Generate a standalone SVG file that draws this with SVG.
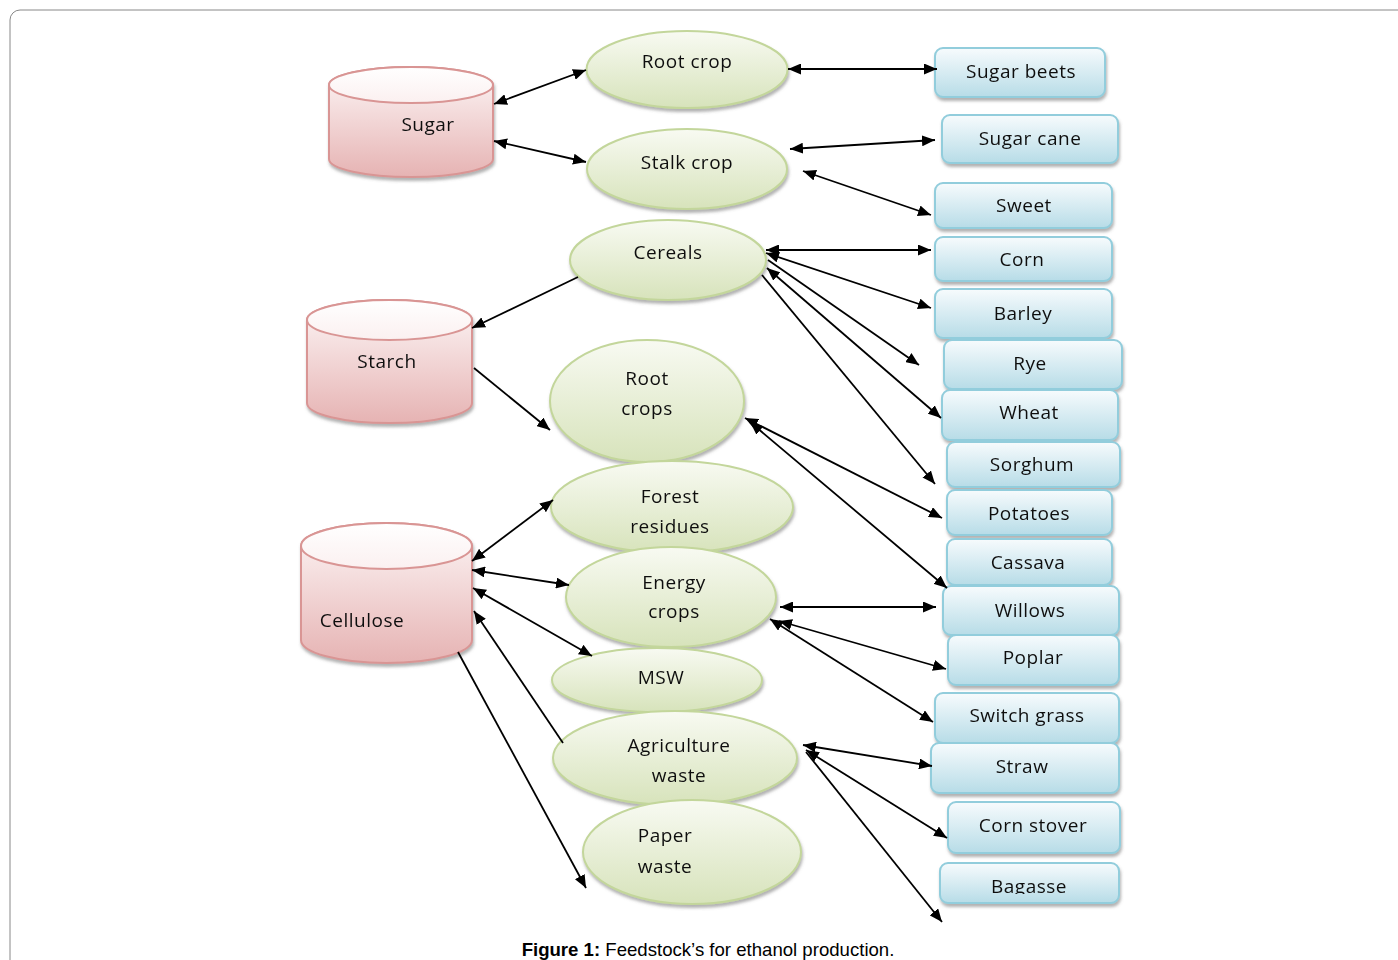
<svg xmlns="http://www.w3.org/2000/svg" width="1398" height="960" viewBox="0 0 1398 960">
<style>
.t{font-family:"Open Sans","Noto Sans","DejaVu Sans",sans-serif;font-size:19px;fill:#111;text-anchor:middle;letter-spacing:0.5px}
.cyl{fill:url(#gPink);stroke:#d99594;stroke-width:2}
.cylTop{fill:url(#gPinkTop);stroke:#d99594;stroke-width:2}
.ell{fill:url(#gGreen);stroke:#c3d69b;stroke-width:2}
.box{fill:url(#gBlue);stroke:#92cddc;stroke-width:2}
.c line{stroke:#000;stroke-width:1.8}
.cap{font-family:"Liberation Sans",Arial,sans-serif;font-size:18.6px;fill:#000;text-anchor:middle}
</style>
<defs>
<linearGradient id="gPink" x1="0" y1="0" x2="0" y2="1"><stop offset="0" stop-color="#fdf7f7"/><stop offset="1" stop-color="#e6b3b3"/></linearGradient>
<linearGradient id="gPinkTop" x1="0" y1="0" x2="0" y2="1"><stop offset="0" stop-color="#ffffff"/><stop offset="1" stop-color="#fbf0f0"/></linearGradient>
<linearGradient id="gGreen" x1="0" y1="0" x2="0" y2="1"><stop offset="0" stop-color="#f8faf2"/><stop offset="1" stop-color="#d7e3bb"/></linearGradient>
<linearGradient id="gBlue" x1="0" y1="0" x2="0" y2="1"><stop offset="0" stop-color="#f7fbfd"/><stop offset="1" stop-color="#b7dce7"/></linearGradient>
<filter id="sh" x="-10%" y="-10%" width="125%" height="135%"><feDropShadow dx="1" dy="3" stdDeviation="1.5" flood-color="#666" flood-opacity="0.5"/></filter>
<marker id="ah" viewBox="0 0 13 11" refX="13" refY="5.5" markerWidth="13" markerHeight="11" markerUnits="userSpaceOnUse" orient="auto-start-reverse"><path d="M0,0 L13,5.5 L0,11 z" fill="#000"/></marker>
<clipPath id="bagClip"><rect x="940" y="863" width="180" height="31"/></clipPath>
</defs>
<rect x="10" y="10" width="1420" height="1000" rx="10" fill="#fff" stroke="#888" stroke-width="1"/>

<g id="sugar" filter="url(#sh)">
<path class="cyl" d="M329,85 L329,159 A82,18 0 0 0 493,159 L493,85 A82,18 0 0 0 329,85 Z"/>
<ellipse class="cylTop" cx="411" cy="85" rx="82" ry="18"/>
<text class="t" x="428" y="131">Sugar</text>
</g>
<g id="starch" filter="url(#sh)">
<path class="cyl" d="M307,320 L307,403 A82,20 0 0 0 472,403 L472,320 A82,20 0 0 0 307,320 Z"/>
<ellipse class="cylTop" cx="389.5" cy="320" rx="82.5" ry="20"/>
<text class="t" x="387" y="368">Starch</text>
</g>
<g id="cellulose" filter="url(#sh)">
<path class="cyl" d="M301,546 L301,640 A85.5,23 0 0 0 472,640 L472,546 A85.5,23 0 0 0 301,546 Z"/>
<ellipse class="cylTop" cx="386.5" cy="546" rx="85.5" ry="23"/>
<text class="t" x="362" y="627">Cellulose</text>
</g>

<g id="rootcrop" filter="url(#sh)"><ellipse class="ell" cx="687" cy="69.5" rx="100.5" ry="38.5"/><text class="t" x="687" y="68">Root crop</text></g>
<g id="stalkcrop" filter="url(#sh)"><ellipse class="ell" cx="687" cy="169" rx="100" ry="40"/><text class="t" x="687" y="169">Stalk crop</text></g>
<g id="cereals" filter="url(#sh)"><ellipse class="ell" cx="668" cy="260" rx="98" ry="40"/><text class="t" x="668" y="259">Cereals</text></g>
<g id="rootcrops" filter="url(#sh)"><ellipse class="ell" cx="647" cy="401" rx="97" ry="61"/><text class="t" x="647" y="385">Root</text><text class="t" x="647" y="415">crops</text></g>
<g id="forest" filter="url(#sh)"><ellipse class="ell" cx="672" cy="507" rx="121" ry="46"/><text class="t" x="670" y="503">Forest</text><text class="t" x="670" y="533">residues</text></g>
<g id="energy" filter="url(#sh)"><ellipse class="ell" cx="671" cy="597" rx="105" ry="50"/><text class="t" x="674" y="589">Energy</text><text class="t" x="674" y="618">crops</text></g>
<g id="msw" filter="url(#sh)"><ellipse class="ell" cx="657" cy="680" rx="105" ry="32"/><text class="t" x="661" y="684">MSW</text></g>
<g id="agri" filter="url(#sh)"><ellipse class="ell" cx="675" cy="758" rx="122" ry="47"/><text class="t" x="679" y="752">Agriculture</text><text class="t" x="679" y="782">waste</text></g>
<g id="paper" filter="url(#sh)"><ellipse class="ell" cx="692" cy="852" rx="109" ry="52"/><text class="t" x="665" y="842">Paper</text><text class="t" x="665" y="873">waste</text></g>

<g id="sugarbeets" filter="url(#sh)"><rect class="box" x="935" y="48" width="170" height="49" rx="8"/><text class="t" x="1021" y="78">Sugar beets</text></g>
<g id="sugarcane" filter="url(#sh)"><rect class="box" x="942" y="115" width="176" height="48" rx="8"/><text class="t" x="1030" y="145">Sugar cane</text></g>
<g id="sweet" filter="url(#sh)"><rect class="box" x="935" y="183" width="177" height="45" rx="8"/><text class="t" x="1024" y="212">Sweet</text></g>
<g id="corn" filter="url(#sh)"><rect class="box" x="935" y="237" width="177" height="44" rx="8"/><text class="t" x="1022" y="266">Corn</text></g>
<g id="barley" filter="url(#sh)"><rect class="box" x="935" y="289" width="177" height="49" rx="8"/><text class="t" x="1023" y="320">Barley</text></g>
<g id="rye" filter="url(#sh)"><rect class="box" x="944" y="340" width="178" height="49" rx="8"/><text class="t" x="1030" y="370">Rye</text></g>
<g id="wheat" filter="url(#sh)"><rect class="box" x="942" y="390" width="176" height="50" rx="8"/><text class="t" x="1029" y="419">Wheat</text></g>
<g id="sorghum" filter="url(#sh)"><rect class="box" x="947" y="442" width="173" height="45" rx="8"/><text class="t" x="1032" y="471">Sorghum</text></g>
<g id="potatoes" filter="url(#sh)"><rect class="box" x="947" y="490" width="165" height="45" rx="8"/><text class="t" x="1029" y="520">Potatoes</text></g>
<g id="cassava" filter="url(#sh)"><rect class="box" x="947" y="539" width="165" height="46" rx="8"/><text class="t" x="1028" y="569">Cassava</text></g>
<g id="willows" filter="url(#sh)"><rect class="box" x="943" y="586" width="176" height="49" rx="8"/><text class="t" x="1030" y="617">Willows</text></g>
<g id="poplar" filter="url(#sh)"><rect class="box" x="948" y="635" width="171" height="50" rx="8"/><text class="t" x="1033" y="664">Poplar</text></g>
<g id="switchgrass" filter="url(#sh)"><rect class="box" x="935" y="693" width="184" height="50" rx="8"/><text class="t" x="1027" y="722">Switch grass</text></g>
<g id="straw" filter="url(#sh)"><rect class="box" x="931" y="743" width="188" height="50" rx="8"/><text class="t" x="1022" y="773">Straw</text></g>
<g id="cornstover" filter="url(#sh)"><rect class="box" x="948" y="802" width="172" height="51" rx="8"/><text class="t" x="1033" y="832">Corn stover</text></g>
<g id="bagasse" filter="url(#sh)"><rect class="box" x="940" y="863" width="179" height="40" rx="8"/><text class="t" x="1029" y="893" clip-path="url(#bagClip)">Bagasse</text></g>

<g id="connectors" class="c">
<line x1="494" y1="104" x2="586" y2="70" marker-start="url(#ah)" marker-end="url(#ah)"/>
<line x1="494" y1="141" x2="586" y2="162" marker-start="url(#ah)" marker-end="url(#ah)"/>
<line x1="788" y1="69" x2="937" y2="69" marker-start="url(#ah)" marker-end="url(#ah)"/>
<line x1="790" y1="149" x2="935" y2="140" marker-start="url(#ah)" marker-end="url(#ah)"/>
<line x1="803" y1="171" x2="931" y2="215" marker-start="url(#ah)" marker-end="url(#ah)"/>
<line x1="766" y1="250" x2="931" y2="250" marker-start="url(#ah)" marker-end="url(#ah)"/>
<line x1="766" y1="253" x2="931" y2="308" marker-start="url(#ah)" marker-end="url(#ah)"/>
<line x1="768" y1="260" x2="919" y2="365"  marker-end="url(#ah)"/>
<line x1="767" y1="268" x2="941" y2="418" marker-start="url(#ah)" marker-end="url(#ah)"/>
<line x1="762" y1="275" x2="935" y2="484" marker-end="url(#ah)"/>
<line x1="578" y1="277" x2="472" y2="328" marker-end="url(#ah)"/>
<line x1="474" y1="368" x2="550" y2="430" marker-end="url(#ah)"/>
<line x1="745" y1="418" x2="942" y2="518" marker-start="url(#ah)" marker-end="url(#ah)"/>
<line x1="750" y1="422" x2="947" y2="588" marker-start="url(#ah)" marker-end="url(#ah)"/>
<line x1="472" y1="561" x2="553" y2="500" marker-start="url(#ah)" marker-end="url(#ah)"/>
<line x1="472" y1="570" x2="569" y2="585" marker-start="url(#ah)" marker-end="url(#ah)"/>
<line x1="473" y1="588" x2="592" y2="656" marker-start="url(#ah)" marker-end="url(#ah)"/>
<line x1="563" y1="743" x2="474" y2="611" marker-end="url(#ah)"/>
<line x1="458" y1="652" x2="586" y2="888" marker-end="url(#ah)"/>
<line x1="780" y1="607" x2="936" y2="607" marker-start="url(#ah)" marker-end="url(#ah)"/>
<line x1="779" y1="621" x2="946" y2="669" marker-start="url(#ah)" marker-end="url(#ah)"/>
<line x1="770" y1="619" x2="933" y2="722" marker-start="url(#ah)" marker-end="url(#ah)"/>
<line x1="803" y1="745" x2="932" y2="766" marker-start="url(#ah)" marker-end="url(#ah)"/>
<line x1="806" y1="750" x2="947" y2="838" marker-start="url(#ah)" marker-end="url(#ah)"/>
<line x1="806" y1="752" x2="942" y2="922" marker-end="url(#ah)"/>
</g>
<text class="cap" x="708" y="956"><tspan font-weight="bold">Figure 1:</tspan> Feedstock’s for ethanol production.</text>
</svg>
